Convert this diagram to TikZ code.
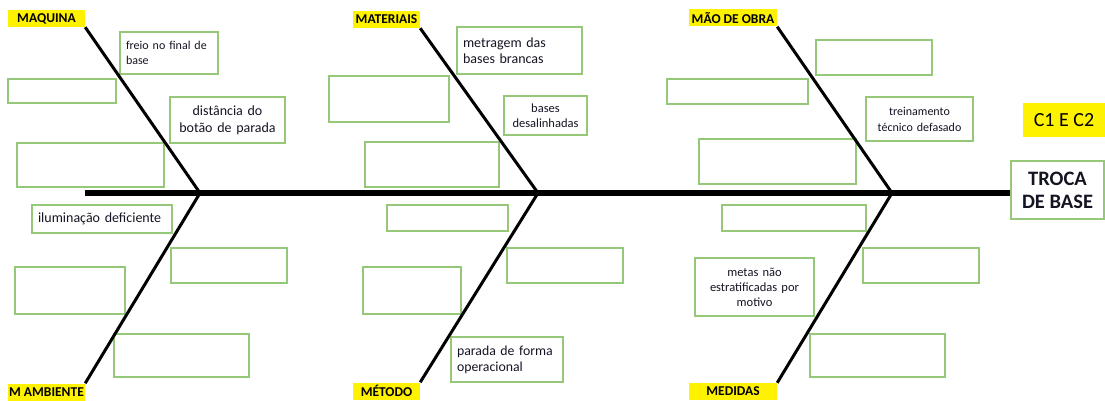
\documentclass[tikz,border=0pt]{standalone}
\usepackage{fontspec}
\setmainfont{Carlito}
\definecolor{boxgreen}{RGB}{150,200,122}
\definecolor{ink}{RGB}{20,20,35}
\tikzset{
  spine/.style={line width=6.5pt, black},
  bone/.style={line width=3pt, black},
  cause/.style={fill=yellow, inner sep=0pt, minimum height=17pt,
    font=\fontsize{13.5}{15}\selectfont\bfseries, text=black},
  gbox/.style={draw=boxgreen, line width=1.4pt, fill=none, inner xsep=6pt,
    inner ysep=0pt, text=ink},
}
% cause box: name, cx, cy, w, h, align, size, leading, text
\newcommand{\gb}[9]{%
  \pgfmathsetmacro{\gbtw}{#4-12}%
  \node[gbox, minimum width=#4pt, minimum height=#5pt, text width=\gbtw pt,
        align=#6, font=\fontsize{#7}{#8}\selectfont] (#1) at (#2,#3) {#9};}
\begin{document}
\begin{tikzpicture}[x=1pt,y=-1pt]
\useasboundingbox (0,0) rectangle (1105,401);

% effect and headline
\node[draw=boxgreen, line width=1.4pt, minimum width=93pt, minimum height=58pt,
      align=center, font=\fontsize{20.5}{23}\selectfont\bfseries, text=ink]
      (troca) at (1057.5,190) {TROCA\\DE BASE};
\node[fill=yellow, minimum width=82pt, minimum height=34pt, inner sep=0pt,
      font=\fontsize{20}{22}\selectfont, text=black] (tag) at (1064,120) {C1 E C2};

% category labels
\node[cause, minimum width=77pt] (maq) at (46.5,18.5) {MAQUINA};
\node[cause, minimum width=77pt] (amb) at (46.5,392) {M AMBIENTE};
\node[cause, minimum width=67pt] (mat) at (386.5,19.5) {MATERIAIS};
\node[cause, minimum width=67pt] (met) at (386.5,391) {MÉTODO};
\node[cause, minimum width=88pt] (mao) at (733,18) {MÃO DE OBRA};
\node[cause, minimum width=88pt] (med) at (733,391.5) {MEDIDAS};

% cause boxes
\gb{b1}{169}{53}{98}{42}{left}{12}{15}{freio no final de\\base}
\gb{b2}{62}{91}{108}{24}{left}{11}{14}{}
\gb{b3}{227.5}{120}{115}{46}{center}{14}{17}{distância do\\botão de parada}
\gb{b4}{90.5}{165}{147}{44}{left}{11}{14}{}
\gb{b5}{519.5}{50.5}{125}{47}{left}{14}{16}{metragem das\\bases brancas}
\gb{b6}{389}{99}{120}{46}{left}{11}{14}{}
\gb{b7}{545.5}{115.5}{83}{39}{center}{12.5}{15}{bases\\desalinhadas}
\gb{b8}{432}{164.5}{134}{45}{left}{11}{14}{}
\gb{b9}{874}{57.5}{116}{35}{left}{11}{14}{}
\gb{b10}{737.5}{91.5}{141}{25}{left}{11}{14}{}
\gb{b11}{919.5}{119}{107}{44}{center}{12}{16}{treinamento\\técnico defasado}
\gb{b12}{777.5}{161.5}{157}{45}{left}{11}{14}{}
\gb{b13}{102}{219}{140}{28}{left}{14}{16}{iluminação deficiente}
\gb{b14}{229}{265.5}{116}{35}{left}{11}{14}{}
\gb{b15}{70}{290.5}{110}{47}{left}{11}{14}{}
\gb{b16}{181.5}{355.5}{135}{43}{left}{11}{14}{}
\gb{b17}{447.5}{218}{121}{26}{left}{11}{14}{}
\gb{b18}{565}{265.5}{116}{35}{left}{11}{14}{}
\gb{b19}{412}{290.5}{98}{47}{left}{11}{14}{}
\gb{b20}{507}{359.5}{112}{45}{left}{13.8}{16}{parada de forma\\operacional}
\gb{b21}{794}{218}{144}{26}{left}{11}{14}{}
\gb{b22}{921}{265.5}{116}{35}{left}{11}{14}{}
\gb{b23}{754.5}{287}{119}{58}{center}{12.5}{15}{metas não\\estratificadas por\\motivo}
\gb{b24}{877.5}{355.5}{135}{43}{left}{11}{14}{}

% skeleton
\coordinate (tail) at (85,193);
\coordinate (j1) at (200,193);
\coordinate (j2) at (538,193);
\coordinate (j3) at (892,193);
\draw[spine] (tail) -- (tail -| troca.west);
\draw[bone] (maq.south east) -- (j1);
\draw[bone] (amb.north east) -- (j1);
\draw[bone] (mat.south east) -- (j2);
\draw[bone] (met.north east) -- (j2);
\draw[bone] (mao.south east) -- (j3);
\draw[bone] (med.north east) -- (j3);
\end{tikzpicture}
\end{document}
